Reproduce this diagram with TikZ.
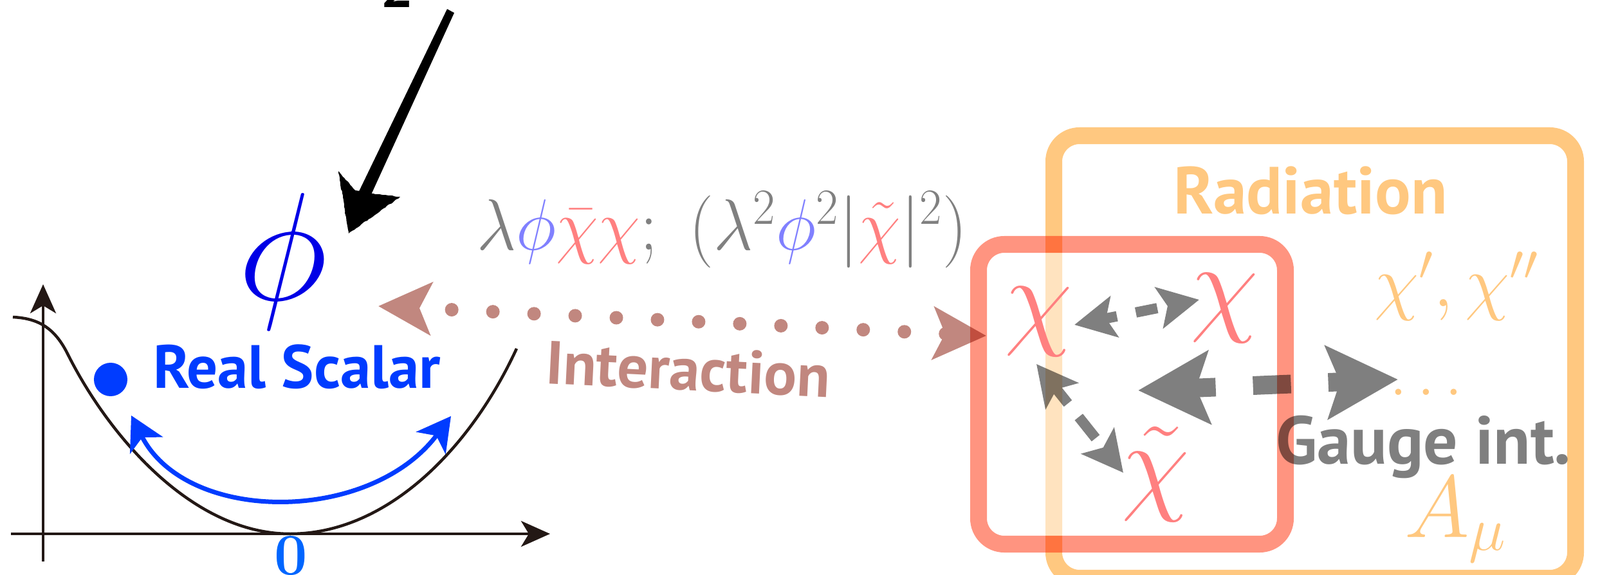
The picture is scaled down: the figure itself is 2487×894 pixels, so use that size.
\RequirePackage{fix-cm}
\documentclass[tikz,border=0pt]{standalone}
\usepackage{fontspec}
\newfontfamily\labelfont{PT Sans}
\usetikzlibrary{arrows.meta,decorations.pathmorphing}
\definecolor{potblack}{RGB}{35,24,21}
\definecolor{scalarblue}{RGB}{0,60,255}
\definecolor{zeroblue}{RGB}{0,102,255}
\definecolor{phiblue}{RGB}{0,0,230}
\definecolor{lamgray}{RGB}{128,128,128}
\definecolor{lightblue}{RGB}{128,128,255}
\definecolor{pinkred}{RGB}{255,128,128}
\definecolor{intbrown}{RGB}{193,135,127}
\definecolor{redboxc}{RGB}{255,148,128}
\definecolor{orangec}{RGB}{255,200,128}
\newcommand{\fsz}[1]{\fontsize{#1}{#1}\selectfont}
\tikzset{
  lbl/.style={inner sep=0pt, outer sep=0pt},
  sanslbl/.style={lbl, font=\labelfont\bfseries},
  gsmall/.tip={Stealth[length=0.63cm, width=0.64cm, inset=0.13cm]},
  gbig/.tip={Stealth[length=1.1cm, width=1.12cm, inset=0.2cm]},
  ihead/.tip={Stealth[length=0.82cm, width=0.81cm, inset=0.18cm]},
  bhead/.tip={Stealth[length=0.52cm, width=0.57cm, inset=0.14cm]},
  axhead/.tip={Stealth[length=0.45cm, width=0.40cm, inset=0.12cm]},
  axisline/.style={draw=potblack, line width=0.046cm},
  garrow/.style={draw=black, line width=0.16cm},
  boxline/.style={line width=0.26cm, rounded corners=0.4cm},
  rough/.style={decorate, decoration={random steps, segment length=1pt, amplitude=0.2pt}},
}
\begin{document}
\begin{tikzpicture}[x=0.01cm,y=-0.01cm]
\useasboundingbox (0,0) rectangle (2487,894);

% orange radiation box
\draw[boxline, draw=orangec] (1638,211) rectangle (2449,899);

% potential plot
\coordinate (yb) at (67,873); \coordinate (yt) at (67,442);
\coordinate (xl) at (17,830); \coordinate (xr) at (855,830);
\draw[axisline, -{axhead}] (yb) -- (yt);
\draw[axisline, -{axhead}] (xl) -- (xr);
\coordinate (p0) at (20,493); \coordinate (p1) at (105,550);
\coordinate (pmin) at (451,830); \coordinate (p3) at (803,542);
\draw[draw=potblack, line width=0.045cm] (p0) .. controls (60,495) and (85,510) .. (p1)
  .. controls (170,680) and (300,830) .. (pmin)
  .. controls (600,830) and (730,700) .. (p3);
\node[circle, fill=scalarblue, inner sep=0pt, minimum size=0.52cm] (ball) at (172,590) {};
\coordinate (ba1) at (204,646); \coordinate (ba2) at (701,647);
\draw[draw=scalarblue, line width=0.07cm, {bhead}-{bhead}] (ba1) .. controls (290,815) and (575,815) .. (ba2);
\node[sanslbl, anchor=base west, text=scalarblue, font=\labelfont\bfseries\fsz{27pt}] (rs) at (238,603) {Real Scalar};
\node[lbl, anchor=base, text=zeroblue, font=\bfseries\fsz{26pt}] (zero) at (452,893) {0};
\node[lbl, text=phiblue, font=\fsz{68pt}] (phi) at (440,407) {$\phi$};

% black sketchy arrow and cut-off 2
\node[lbl, anchor=base, font=\labelfont\bfseries\fsz{26pt}] (two) at (617,12) {2};
\fill[black] (695,14) -- (706,20) -- (568,322) -- (550,314) -- cycle;
\fill[black, rough] (542,363) -- (526,266) -- (552,296) -- (585,302) -- (622,306) -- cycle;

% lagrangian
\node[lbl, anchor=base west, text=lamgray, font=\fsz{32pt}] (lag) at (741,389)
  {\scalebox{0.95}[1]{$\lambda{\color{lightblue}\phi}{\color{pinkred}\bar\chi\chi};\ (\lambda^2{\color{lightblue}\phi}^2|{\color{pinkred}\tilde\chi}|^2)$}};

% interaction arrow
\coordinate (iL) at (588,476); \coordinate (iR) at (1533,522);
\draw[draw=intbrown, line width=0.21cm, line cap=round, dash pattern=on 0pt off 0.64cm, dash phase=0.09cm, {ihead}-{ihead}] (iL) -- (iR);
\node[sanslbl, anchor=base west, text=intbrown, rotate=-2.8, font=\labelfont\bfseries\fsz{27pt}] (inter) at (847,596) {Interaction};

% red box
\fill[white, fill opacity=0.5, rounded corners=0.27cm] (1534,393) rectangle (1985,833);
\begin{scope}[blend mode=multiply]
\draw[boxline, draw=redboxc] (1521,380) rectangle (1998,846);
\end{scope}

% labels in boxes
\node[lbl, anchor=base, text=pinkred, font=\fsz{49pt}] (chiL) at (1614,520) {$\chi$};
\node[lbl, anchor=base, text=pinkred, font=\fsz{49pt}] (chiR) at (1903,499) {$\chi$};
\node[lbl, anchor=base, text=pinkred, font=\fsz{49pt}] (chiT) at (1796,777) {$\tilde\chi$};
\node[sanslbl, anchor=base west, text=orangec, font=\labelfont\bfseries\fsz{29.5pt}] (rad) at (1824,333) {Radiation};
\node[lbl, anchor=base west, text=orangec, font=\fsz{32pt}] (chip) at (2136,476) {$\chi',\chi''$};
\node[lbl, anchor=base west, text=orangec, font=\fsz{28pt}] (dots) at (2160,614) {$\ldots$};
\node[lbl, anchor=base west, text=orangec, font=\fsz{39pt}] (amu) at (2183,835) {$A_\mu$};

% gray arrows
\coordinate (c1a) at (1670,505); \coordinate (c1b) at (1864,466);
\coordinate (c2a) at (1611,566); \coordinate (c2b) at (1746,735);
\coordinate (bgL) at (1769,607); \coordinate (bgR) at (2173,590);
\begin{scope}[transparency group, opacity=0.5]
\draw[garrow, dash pattern=on 0.34cm off 0.30cm, dash phase=0.13cm, {gsmall}-{gsmall}] (c1a) -- (c1b);
\draw[garrow, dash pattern=on 0.42cm off 0.27cm, dash phase=0.1cm, {gsmall}-{gsmall}] (c2a) -- (c2b);
\draw[garrow, line width=0.29cm, dash pattern=on 0.59cm off 0.58cm, dash phase=0.22cm, {gbig}-{gbig}] (bgL) -- (bgR);
\node[sanslbl, anchor=base west, text=black, font=\labelfont\bfseries\fsz{30pt}] (gauge) at (1983,721) {Gauge int.};
\end{scope}
\end{tikzpicture}
\end{document}
